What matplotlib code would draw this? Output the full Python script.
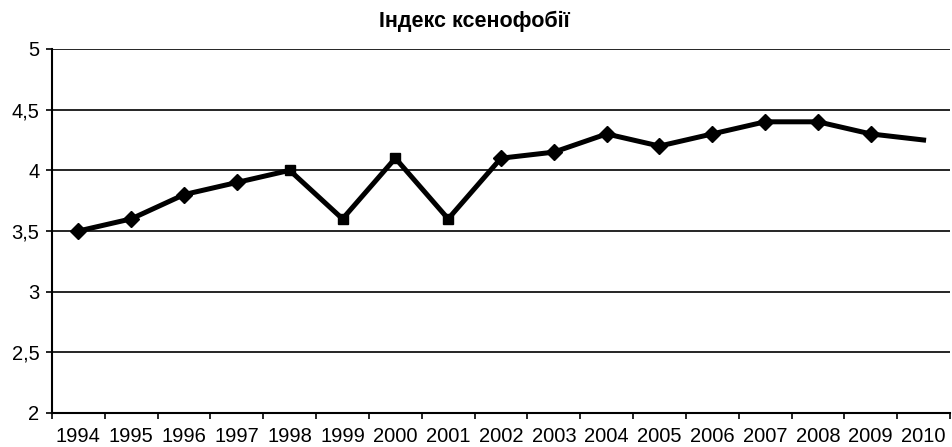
import matplotlib
matplotlib.use("Agg")
import matplotlib.pyplot as plt
from matplotlib.ticker import FixedLocator, FuncFormatter

years = ["1994", "1995", "1996", "1997", "1998", "1999", "2000", "2001", "2002",
         "2003", "2004", "2005", "2006", "2007", "2008", "2009", "2010"]
values = [3.5, 3.6, 3.8, 3.9, 4.0, 3.6, 4.1, 3.6, 4.1,
          4.15, 4.3, 4.2, 4.3, 4.4, 4.4, 4.3, 4.25]
markers = ["D", "D", "D", "D", "s", "s", "s", "s", "D",
           "D", "D", "D", "D", "D", "D", "D", ""]
yticks = [2, 2.5, 3, 3.5, 4, 4.5, 5]
title = "Індекс ксенофобії"

plt.rcParams['font.family'] = ['Liberation Sans', 'DejaVu Sans']

fig = plt.figure(figsize=(9.52, 4.47), dpi=100)
ax = fig.add_axes([52/952, 34/447, 898/952, 364/447])

x = list(range(len(years)))
ax.plot(x, values, color="black", lw=3.6, solid_joinstyle="miter", zorder=3)
for xi, v, m in zip(x, values, markers):
    if m:
        ax.plot([xi], [v], marker=m, color="black",
                markersize=8 if m == "D" else 7.5, zorder=4)

ax.set_xlim(-0.5, len(years) - 0.5)
ax.set_ylim(2, 5)
ax.set_yticks(yticks)
ax.yaxis.set_major_formatter(FuncFormatter(lambda v, p: f"{v:g}".replace(".", ",")))
ax.xaxis.set_major_locator(FixedLocator([i - 0.5 for i in range(len(years) + 1)]))
ax.xaxis.set_minor_locator(FixedLocator(x))
ax.set_xticklabels([""] * (len(years) + 1))
ax.set_xticklabels(years, minor=True)
ax.tick_params(axis="x", which="major", length=4, width=1.2, direction="out", color="black")
ax.tick_params(axis="x", which="minor", length=0, labelsize=14.5, pad=10)
ax.tick_params(axis="y", length=4, width=1.2, labelsize=14.5, pad=5)

ax.grid(axis="y", color="black", lw=1.2)
ax.set_axisbelow(True)
for s in ["top", "right"]:
    ax.spines[s].set_visible(False)
for s in ["left", "bottom"]:
    ax.spines[s].set_linewidth(1.5)

fig.text(0.498, 0.953, title, ha="center", va="center", fontsize=15.5, fontweight="bold")

fig.savefig("out.png", dpi=100)
